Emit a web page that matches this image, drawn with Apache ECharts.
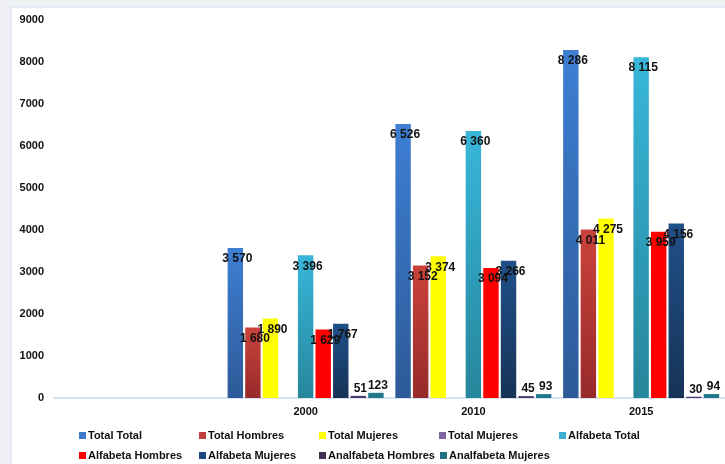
<!DOCTYPE html>
<html>
<head>
<meta charset="utf-8">
<script src="https://cdn.jsdelivr.net/npm/echarts@6/dist/echarts.min.js"></script>
<style>
  html, body { margin: 0; padding: 0; width: 725px; height: 464px; overflow: hidden; background: #eff0f4; }
  #panel { position: absolute; left: 10px; top: 6px; width: 740px; height: 480px; background: #fff; border-left: 2px solid #e3eaf6; border-top: 2px solid #e3eaf6; box-sizing: border-box; }
  #chart { position: absolute; left: 0; top: 0; width: 725px; height: 464px; }
</style>
</head>
<body>
<div id="panel"></div>
<div id="chart"></div>
<script>
// ---- data ----
const categories = ['', '2000', '2010', '2015'];
const seriesNames = ['Total Total', 'Total Hombres', 'Total Mujeres', 'Total Mujeres ', 'Alfabeta Total',
                     'Alfabeta Hombres', 'Alfabeta Mujeres', 'Analfabeta Hombres', 'Analfabeta Mujeres'];
const totalTotal        = [null, 3570, 6526, 8286];
const totalHombres      = [null, 1680, 3152, 4011];
const totalMujeres      = [null, 1890, 3374, 4275];
const totalMujeres2     = [null, null, null, null];
const alfabetaTotal     = [null, 3396, 6360, 8115];
const alfabetaHombres   = [null, 1629, 3094, 3959];
const alfabetaMujeres   = [null, 1767, 3266, 4156];
const analfabetaHombres = [null, 51, 45, 30];
const analfabetaMujeres = [null, 123, 93, 94];
const yTicks = [0, 1000, 2000, 3000, 4000, 5000, 6000, 7000, 8000, 9000];

const seriesValues = [totalTotal, totalHombres, totalMujeres, totalMujeres2, alfabetaTotal,
                      alfabetaHombres, alfabetaMujeres, analfabetaHombres, analfabetaMujeres];

// ---- styles ----
function grad(top, bottom) {
  return { type: 'linear', x: 0, y: 0, x2: 0, y2: 1, colorStops: [{ offset: 0, color: top }, { offset: 1, color: bottom }] };
}
const barColors = [
  grad('#3e7fd3', '#2d5a98'),
  grad('#cb433c', '#972a2a'),
  '#ffff00',
  '#7f62a6',
  grad('#38b7da', '#26869b'),
  '#ff0000',
  grad('#205089', '#163357'),
  '#4c3969',
  '#1f7889'
];
const legendColors = ['#3b78c9', '#c0403c', '#ffff00', '#8064a2', '#3cb0d2', '#ff0000', '#1f497d', '#403152', '#1f6f80'];
const smallSeries = [7, 8];

function fmt(v) {
  const n = Math.round(v);
  return String(n).replace(/\B(?=(\d{3})+(?!\d))/g, ' ');
}

const chart = echarts.init(document.getElementById('chart'), null, { renderer: 'canvas' });
const series = seriesNames.map((name, i) => ({
  name: name,
  type: 'bar',
  data: seriesValues[i],
  barCategoryGap: '7%',
  barGap: '14%',
  itemStyle: { color: barColors[i] },
  label: {
    show: true,
    position: smallSeries.includes(i) ? 'top' : 'insideTop',
    distance: smallSeries.includes(i) ? 1 : 5,
    offset: [2, 0],
    color: '#111',
    fontFamily: 'Liberation Sans, Arial, sans-serif',
    fontWeight: 'bold',
    fontSize: 12,
    formatter: p => (p.value == null ? '' : fmt(p.value))
  },
  emphasis: { disabled: true }
}));

chart.setOption({
  animation: false,
  backgroundColor: 'transparent',
  textStyle: { fontFamily: 'Liberation Sans, Arial, sans-serif' },
  grid: { left: 54, right: -4, top: 20, bottom: 66, containLabel: false },
  legend: {
    left: 79,
    top: 428,
    width: 620,
    padding: 0,
    itemGap: 5,
    itemWidth: 7,
    itemHeight: 7,
    icon: 'rect',
    textStyle: { color: '#111', fontWeight: 'bold', fontSize: 11, width: 106, lineHeight: 15, padding: [0, 0, 0, -3], fontFamily: 'Liberation Sans, Arial, sans-serif' },
    data: seriesNames.map((n, i) => ({ name: n, itemStyle: { color: legendColors[i] } }))
  },
  xAxis: {
    type: 'category',
    data: categories,
    axisLine: { show: true, lineStyle: { color: '#d9e2f1', width: 2 } },
    axisTick: { show: false },
    axisLabel: { color: '#111', fontWeight: 'bold', fontSize: 11, margin: 8 }
  },
  yAxis: {
    type: 'value',
    min: yTicks[0],
    max: yTicks[yTicks.length - 1],
    interval: 1000,
    axisLine: { show: false },
    axisTick: { show: false },
    splitLine: { show: false },
    axisLabel: { color: '#111', fontWeight: 'bold', fontSize: 11, margin: 10, formatter: v => String(v) }
  },
  series: series
});
</script>
</body>
</html>
